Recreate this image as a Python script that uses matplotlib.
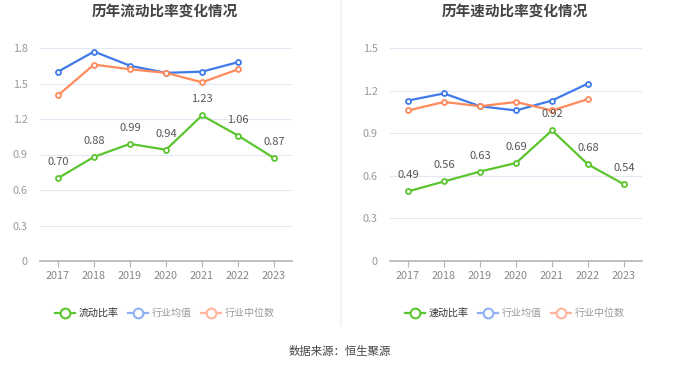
import matplotlib
matplotlib.use("Agg")
import matplotlib.pyplot as plt
from matplotlib.lines import Line2D

plt.rcParams['font.family'] = ['Noto Sans CJK SC', 'DejaVu Sans']

years = ["2017", "2018", "2019", "2020", "2021", "2022", "2023"]

current_ratio = [0.70, 0.88, 0.99, 0.94, 1.23, 1.06, 0.87]
current_mean = [1.60, 1.77, 1.65, 1.59, 1.60, 1.68]
current_median = [1.40, 1.66, 1.62, 1.59, 1.51, 1.62]

quick_ratio = [0.49, 0.56, 0.63, 0.69, 0.92, 0.68, 0.54]
quick_mean = [1.13, 1.18, 1.09, 1.06, 1.13, 1.25]
quick_median = [1.06, 1.12, 1.09, 1.12, 1.06, 1.14]

left_ticks = [0, 0.3, 0.6, 0.9, 1.2, 1.5, 1.8]
left_ticklabels = ["0", "0.3", "0.6", "0.9", "1.2", "1.5", "1.8"]
right_ticks = [0, 0.3, 0.6, 0.9, 1.2, 1.5]
right_ticklabels = ["0", "0.3", "0.6", "0.9", "1.2", "1.5"]

GREEN = "#5bc42f"
BLUE = "#3f7ae8"
ORANGE = "#ff8a5c"
GREEN_L = "#5bc42f"
BLUE_L = "#8fb0f3"
ORANGE_L = "#ffb59b"

W, H = 680, 367
fig = plt.figure(figsize=(W / 100, H / 100), dpi=100)

def px_box(x0, x1, ytop, ybot):
    return [x0 / W, 1 - ybot / H, (x1 - x0) / W, (ybot - ytop) / H]

def draw(ax, main, mean, median, ticks, ticklabels, ymax, title, main_name, cx):
    x = list(range(len(years)))
    ax.set_xlim(-0.5, len(years) - 0.5)
    ax.set_ylim(0, ymax)
    for t in ticks[1:]:
        ax.axhline(t, color="#e3e8f4", lw=0.8, zorder=0)
    kw = dict(lw=1.6, marker="o", markersize=3.6, markerfacecolor="white",
              markeredgewidth=1.3, zorder=3)
    ax.plot(x[:len(mean)], mean, color=BLUE, **kw)
    ax.plot(x[:len(median)], median, color=ORANGE, **kw)
    ax.plot(x, main, color=GREEN, **kw)
    for xi, v in zip(x, main):
        ax.annotate(f"{v:.2f}", (xi, v), textcoords="offset pixels",
                    xytext=(0, 16), ha="center", va="center",
                    fontsize=8, color="#555555", zorder=4)
    for s in ["top", "right", "left"]:
        ax.spines[s].set_visible(False)
    ax.spines["bottom"].set_color("#b5b5b5")
    ax.spines["bottom"].set_linewidth(1.2)
    ax.set_xticks(x)
    ax.set_xticklabels(years, fontsize=7.8, color="#888888")
    ax.tick_params(axis="x", length=4, color="#b5b5b5", pad=3)
    ax.set_yticks(ticks)
    ax.set_yticklabels(ticklabels, fontsize=7.8, color="#999999")
    ax.tick_params(axis="y", length=0, pad=9)
    fig.text(cx / W, 1 - 11 / H, title, ha="center", va="center",
             fontsize=10.5, fontweight="bold", color="#444444")
    handles = [
        Line2D([], [], color=GREEN_L, lw=1.6, marker="o", markersize=7,
               markerfacecolor="white", markeredgewidth=1.5),
        Line2D([], [], color=BLUE_L, lw=1.6, marker="o", markersize=7,
               markerfacecolor="white", markeredgewidth=1.5),
        Line2D([], [], color=ORANGE_L, lw=1.6, marker="o", markersize=7,
               markerfacecolor="white", markeredgewidth=1.5),
    ]
    leg = fig.legend(handles, [main_name, "行业均值", "行业中位数"],
                     loc="center", bbox_to_anchor=(cx / W, 1 - 313 / H),
                     ncol=3, frameon=False, fontsize=7.2, handlelength=2.0,
                     handletextpad=0.4, columnspacing=0.9)
    for t, c in zip(leg.get_texts(), ["#333333", "#999999", "#999999"]):
        t.set_color(c)

ax1 = fig.add_axes(px_box(40, 292, 48, 261))
draw(ax1, current_ratio, current_mean, current_median, left_ticks,
     left_ticklabels, 1.8, "历年流动比率变化情况", "流动比率", 165)

ax2 = fig.add_axes(px_box(390, 642, 48, 261))
draw(ax2, quick_ratio, quick_mean, quick_median, right_ticks,
     right_ticklabels, 1.5, "历年速动比率变化情况", "速动比率", 515)

fig.add_artist(Line2D([341 / W, 341 / W], [1 - 325 / H, 1.0],
                      color="#f2f2f2", lw=1.2))

fig.text(340 / W, 1 - 351 / H, "数据来源：恒生聚源", ha="center", va="center",
         fontsize=8.2, color="#444444")

fig.savefig("out.png", dpi=100)
